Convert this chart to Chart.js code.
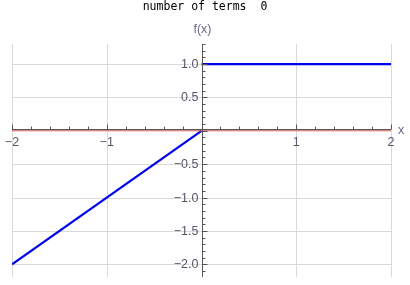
<!DOCTYPE html>
<html>
<head>
<meta charset="utf-8">
<script src="https://cdn.jsdelivr.net/npm/chart.js@4"></script>
<style>
html,body{margin:0;padding:0;background:#fff;}
canvas{display:block;}
</style>
</head>
<body>
<canvas id="c" width="410" height="285"></canvas>
<script>
const titleText = "number of terms  0";
const xAxisLabel = "x";
const yAxisLabel = "f(x)";
// target function f(x)
const fLeftX = [-2, 0];
const fLeftY = [-2, 0];
const fRightX = [0, 2];
const fRightY = [1, 1];
// approximation with 0 terms
const approxX = [-2, 2];
const approxY = [0, 0];
// ticks
const xTickValues = [-2, -1, 1, 2];
const xTickLabels = ["\u22122", "\u22121", "1", "2"];
const yTickValues = [-2, -1.5, -1, -0.5, 0.5, 1];
const yTickLabels = ["\u22122.0", "\u22121.5", "\u22121.0", "\u22120.5", "0.5", "1.0"];
const xMinorStep = 0.2;
const yMinorStep = 0.1;

const toPts = (xs, ys) => xs.map((x, i) => ({x: x, y: ys[i]}));

const LABEL_COLOR = "#555568";
const AXIS_COLOR = "#555555";
const GRID_COLOR = "#d9d9d9";

const axesPlugin = {
  id: "mmaAxes",
  beforeDatasetsDraw(chart) {
    const ctx = chart.ctx;
    const xs = chart.scales.x, ys = chart.scales.y;
    const area = chart.chartArea;
    ctx.save();
    ctx.strokeStyle = GRID_COLOR;
    ctx.lineWidth = 1;
    xTickValues.forEach(v => {
      const px = Math.round(xs.getPixelForValue(v)) + 0.5;
      ctx.beginPath(); ctx.moveTo(px, area.top); ctx.lineTo(px, area.bottom); ctx.stroke();
    });
    yTickValues.forEach(v => {
      const py = Math.round(ys.getPixelForValue(v)) + 0.5;
      ctx.beginPath(); ctx.moveTo(area.left, py); ctx.lineTo(area.right, py); ctx.stroke();
    });
    ctx.restore();
  },
  afterDatasetsDraw(chart) {
    const ctx = chart.ctx;
    const xs = chart.scales.x, ys = chart.scales.y;
    const area = chart.chartArea;
    const x0 = Math.round(xs.getPixelForValue(0)) + 0.5;
    const y0 = Math.round(ys.getPixelForValue(0)) - 1.5;
    ctx.save();
    ctx.strokeStyle = AXIS_COLOR;
    ctx.lineWidth = 1;
    ctx.beginPath(); ctx.moveTo(area.left, y0); ctx.lineTo(area.right, y0); ctx.stroke();
    ctx.beginPath(); ctx.moveTo(x0, area.top); ctx.lineTo(x0, area.bottom); ctx.stroke();
    const xmin = xs.min, xmax = xs.max;
    for (let k = Math.ceil(xmin / xMinorStep - 1e-6); k * xMinorStep <= xmax + 1e-6; k++) {
      const v = k * xMinorStep;
      const major = Math.abs(v - Math.round(v)) < 1e-6;
      const px = Math.round(xs.getPixelForValue(v)) + 0.5;
      const len = major ? 5 : 3;
      ctx.beginPath(); ctx.moveTo(px, y0); ctx.lineTo(px, y0 - len); ctx.stroke();
    }
    const ymin = ys.min, ymax = ys.max;
    for (let k = Math.ceil(ymin / yMinorStep - 1e-6); k * yMinorStep <= ymax + 1e-6; k++) {
      const v = k * yMinorStep;
      const major = Math.abs(v * 2 - Math.round(v * 2)) < 1e-6;
      const py = Math.round(ys.getPixelForValue(v)) + 0.5;
      const len = major ? 5 : 3;
      ctx.beginPath(); ctx.moveTo(x0, py); ctx.lineTo(x0 + len, py); ctx.stroke();
    }
    ctx.fillStyle = LABEL_COLOR;
    ctx.font = "12.5px 'Liberation Sans', Arial, sans-serif";
    ctx.textAlign = "center";
    ctx.textBaseline = "middle";
    xTickValues.forEach((v, i) => {
      ctx.fillText(xTickLabels[i], xs.getPixelForValue(v), y0 + 13);
    });
    ctx.textAlign = "right";
    yTickValues.forEach((v, i) => {
      ctx.fillText(yTickLabels[i], x0 - 4, ys.getPixelForValue(v) + 0.5);
    });
    ctx.fillStyle = "#6e6888";
    ctx.textAlign = "center";
    ctx.fillText(yAxisLabel, x0, area.top - 14);
    ctx.textAlign = "left";
    ctx.fillText(xAxisLabel, area.right + 7, y0 + 1);
    ctx.fillStyle = "#000000";
    ctx.font = "11.5px 'DejaVu Sans Mono', monospace";
    ctx.textAlign = "center";
    ctx.textBaseline = "alphabetic";
    ctx.fillText(titleText, 205, 10);
    ctx.restore();
  }
};

new Chart(document.getElementById("c"), {
  type: "scatter",
  data: {
    datasets: [
      {
        data: toPts(approxX, approxY),
        showLine: true,
        borderColor: "#d5564c",
        borderWidth: 1,
        pointRadius: 0
      },
      {
        data: toPts(fLeftX, fLeftY),
        showLine: true,
        borderColor: "#0000ee",
        borderWidth: 2.2,
        pointRadius: 0
      },
      {
        data: toPts(fRightX, fRightY),
        showLine: true,
        borderColor: "#0000ee",
        borderWidth: 2.2,
        pointRadius: 0
      }
    ]
  },
  options: {
    responsive: false,
    animation: false,
    events: [],
    layout: { padding: { left: 12, right: 19, top: 44, bottom: 8 } },
    plugins: { legend: { display: false }, title: { display: false }, tooltip: { enabled: false } },
    scales: {
      x: { type: "linear", min: -2, max: 2, display: false },
      y: { type: "linear", min: -2.19, max: 1.3, display: false }
    }
  },
  plugins: [axesPlugin]
});
</script>
</body>
</html>
